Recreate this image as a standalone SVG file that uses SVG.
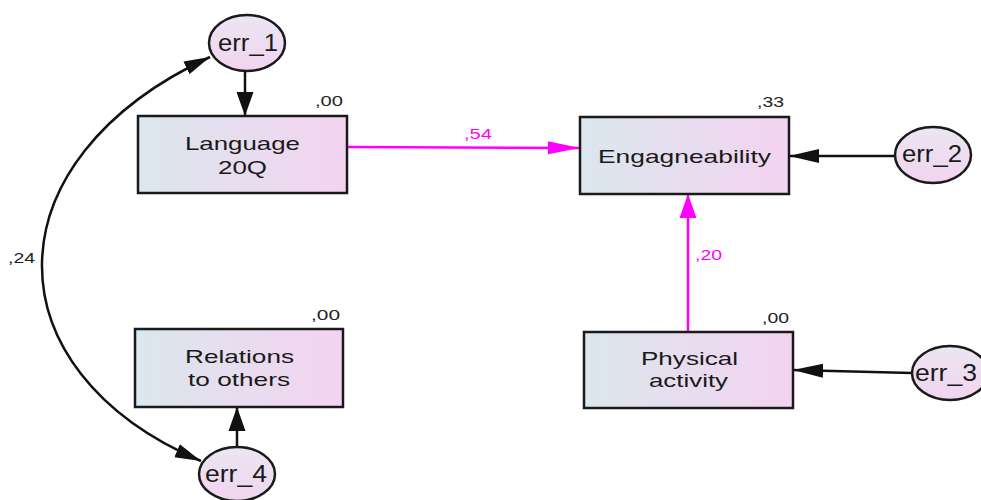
<svg xmlns="http://www.w3.org/2000/svg" width="981" height="500" viewBox="0 0 981 500">
<style>
.box{fill:url(#gBox);stroke:#1a1a1a;stroke-width:2.5}
.ell{fill:url(#gEll);stroke:#1a1a1a;stroke-width:2.5}
.lbl{font-family:"Liberation Sans",Arial,sans-serif;font-size:19px;fill:#1a1a1a;text-anchor:middle}
.err{font-family:"Liberation Sans",Arial,sans-serif;font-size:23px;fill:#1a1a1a;text-anchor:middle}
.num{font-family:"Liberation Sans",Arial,sans-serif;font-size:15px;fill:#222}
.mnum{font-family:"Liberation Sans",Arial,sans-serif;font-size:15px;fill:#ff00ff}
.blk{fill:none;stroke:#111;stroke-width:2.5}
.mag{fill:none;stroke:#ff00ff;stroke-width:2.5}
</style>
<defs>
<linearGradient id="gBox" x1="0" y1="0" x2="1" y2="0">
<stop offset="0" stop-color="#dbe7ee"/>
<stop offset="1" stop-color="#f4d3f0"/>
</linearGradient>
<linearGradient id="gEll" x1="0" y1="0" x2="0" y2="1">
<stop offset="0" stop-color="#ebe6f2"/>
<stop offset="1" stop-color="#f1d4ef"/>
</linearGradient>
<marker id="bh" markerUnits="userSpaceOnUse" markerWidth="30" markerHeight="16" refX="30" refY="8" orient="auto"><path d="M0,1 L30,8 L0,15 Z" fill="#111"/></marker>
<marker id="bv" markerUnits="userSpaceOnUse" markerWidth="24" markerHeight="18" refX="24" refY="9" orient="auto"><path d="M0,0.5 L24,9 L0,17.5 Z" fill="#111"/></marker>
<marker id="bc" markerUnits="userSpaceOnUse" markerWidth="26" markerHeight="16" refX="26" refY="8" orient="auto-start-reverse"><path d="M0,1 L26,8 L0,15 Z" fill="#111"/></marker>
<marker id="mh" markerUnits="userSpaceOnUse" markerWidth="32" markerHeight="16" refX="32" refY="8" orient="auto"><path d="M0,1.5 L32,8 L0,14.5 Z" fill="#ff00ff"/></marker>
<marker id="mv" markerUnits="userSpaceOnUse" markerWidth="24" markerHeight="18" refX="24" refY="9" orient="auto"><path d="M0,0.5 L24,9 L0,17.5 Z" fill="#ff00ff"/></marker>
</defs>

<g id="connectors">
<path class="blk" d="M245,71 L245,116" marker-end="url(#bv)"/>
<path class="blk" d="M894,156 L789,156" marker-end="url(#bh)"/>
<path class="blk" d="M912,373 L793,370" marker-end="url(#bh)"/>
<path class="blk" d="M237,447 L237,407" marker-end="url(#bv)"/>
<path class="mag" d="M347,147 L580,148" marker-end="url(#mh)"/>
<path class="mag" d="M688,332 L688,194" marker-end="url(#mv)"/>
<path class="blk" d="M210,57 C-12.5,160 -12.5,370 201,461" marker-start="url(#bc)" marker-end="url(#bc)"/>
<text class="mnum" x="464" y="139" textLength="28" lengthAdjust="spacingAndGlyphs">,54</text>
<text class="mnum" x="695" y="260" textLength="27" lengthAdjust="spacingAndGlyphs">,20</text>
<text class="num" x="8" y="263" textLength="27" lengthAdjust="spacingAndGlyphs">,24</text>
</g>

<g id="language">
<rect class="box" x="138" y="116" width="209" height="77"/>
<text class="lbl" x="242.5" y="150" textLength="115" lengthAdjust="spacingAndGlyphs">Language</text>
<text class="lbl" x="242.5" y="174" textLength="49" lengthAdjust="spacingAndGlyphs">20Q</text>
<text class="num" x="315" y="106" textLength="28" lengthAdjust="spacingAndGlyphs">,00</text>
</g>

<g id="engagneability">
<rect class="box" x="580" y="117" width="209" height="77"/>
<text class="lbl" x="684.5" y="163" textLength="173" lengthAdjust="spacingAndGlyphs">Engagneability</text>
<text class="num" x="757" y="107" textLength="27" lengthAdjust="spacingAndGlyphs">,33</text>
</g>

<g id="physical">
<rect class="box" x="584" y="332" width="209" height="76"/>
<text class="lbl" x="689.5" y="365" textLength="97" lengthAdjust="spacingAndGlyphs">Physical</text>
<text class="lbl" x="688.5" y="387" textLength="79" lengthAdjust="spacingAndGlyphs">activity</text>
<text class="num" x="762" y="323" textLength="27" lengthAdjust="spacingAndGlyphs">,00</text>
</g>

<g id="relations">
<rect class="box" x="135" y="329" width="208" height="78"/>
<text class="lbl" x="239.5" y="363" textLength="109" lengthAdjust="spacingAndGlyphs">Relations</text>
<text class="lbl" x="239" y="386" textLength="102" lengthAdjust="spacingAndGlyphs">to others</text>
<text class="num" x="311" y="320" textLength="29" lengthAdjust="spacingAndGlyphs">,00</text>
</g>

<g id="err_1">
<ellipse class="ell" cx="247" cy="43" rx="38" ry="28"/>
<text class="err" x="248" y="51" textLength="60" lengthAdjust="spacingAndGlyphs">err_1</text>
</g>

<g id="err_2">
<ellipse class="ell" cx="933" cy="155" rx="38" ry="28"/>
<text class="err" x="932" y="162" textLength="60" lengthAdjust="spacingAndGlyphs">err_2</text>
</g>

<g id="err_3">
<ellipse class="ell" cx="950" cy="373" rx="38" ry="27"/>
<text class="err" x="946" y="381" textLength="62" lengthAdjust="spacingAndGlyphs">err_3</text>
</g>

<g id="err_4">
<ellipse class="ell" cx="237" cy="474" rx="38" ry="27"/>
<text class="err" x="236" y="482" textLength="62" lengthAdjust="spacingAndGlyphs">err_4</text>
</g>
</svg>
